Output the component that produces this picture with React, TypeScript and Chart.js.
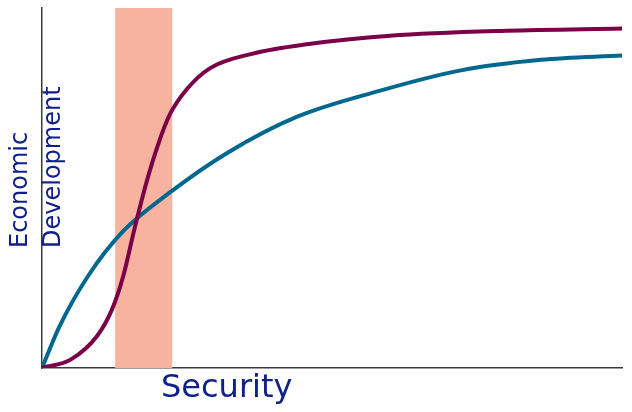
import React, { useEffect, useRef } from "react";
import { Chart, registerables } from "chart.js";

Chart.register(...registerables);

// Curve data (x: security 0..100, y: economic development 0..100)
const tealX = [0, 3, 8, 14, 22, 32, 44, 58, 72, 86, 100];
const tealY = [0, 11.5, 25.7, 38.0, 48.7, 59.8, 69.8, 76.9, 82.6, 85.6, 86.8];

const maroonX = [0, 5, 9.5, 12, 14, 16, 18, 20, 22, 25, 29, 36, 46, 60, 80, 100];
const maroonY = [0, 2.4, 8.9, 16.0, 25.5, 39.0, 51.5, 62.0, 70.3, 77.5, 83.3, 87.2, 90.0, 92.3, 93.7, 94.3];

// Shaded band (x range) spanning the full height
const bandRange = [12.6, 22.5];
const yMax = 100;

const xTitle = "Security";
const yTitleLines = ["Economic", "Development"];

const TEXT_COLOR = "#10208a";
const FONT = "'DejaVu Sans', Verdana, sans-serif";

const toPoints = (xs: number[], ys: number[]) => xs.map((x, i) => ({ x, y: ys[i] }));

const labelPlugin = {
  id: "axisLabels",
  afterDraw(chart: any) {
    const ctx = chart.ctx as CanvasRenderingContext2D;
    ctx.save();
    ctx.fillStyle = TEXT_COLOR;
    ctx.textAlign = "left";
    ctx.textBaseline = "alphabetic";
    ctx.font = `24px ${FONT}`;
    const baselines = [27, 59.5];
    yTitleLines.forEach((t, i) => {
      ctx.save();
      ctx.translate(baselines[i], 248);
      ctx.rotate(-Math.PI / 2);
      ctx.fillText(t, 0, 0);
      ctx.restore();
    });
    ctx.font = `32px ${FONT}`;
    ctx.fillText(xTitle, 161, 397);
    ctx.restore();
  },
};

export default function App() {
  const ref = useRef<HTMLCanvasElement | null>(null);
  useEffect(() => {
    if (!ref.current) return;
    const chart = new Chart(ref.current, {
      type: "line",
      data: {
        datasets: [
          {
            label: "maroon",
            data: toPoints(maroonX, maroonY),
            borderColor: "#7a0048",
            borderWidth: 4,
            pointRadius: 0,
            cubicInterpolationMode: "monotone",
            fill: false,
            order: 1,
          },
          {
            label: "teal",
            data: toPoints(tealX, tealY),
            borderColor: "#00688e",
            borderWidth: 4,
            pointRadius: 0,
            cubicInterpolationMode: "monotone",
            fill: false,
            order: 2,
          },
          {
            label: "band",
            data: [
              { x: bandRange[0], y: 0 },
              { x: bandRange[0], y: yMax },
              { x: bandRange[1], y: yMax },
              { x: bandRange[1], y: 0 },
            ],
            borderWidth: 0,
            borderColor: "rgba(0,0,0,0)",
            backgroundColor: "#f8b3a0",
            pointRadius: 0,
            tension: 0,
            fill: "origin",
            order: 3,
          },
        ],
      },
      options: {
        responsive: false,
        animation: false,
        devicePixelRatio: 1,
        layout: { padding: { left: 42, top: 8, right: 10, bottom: 44 } },
        plugins: { legend: { display: false }, tooltip: { enabled: false } },
        scales: {
          x: {
            type: "linear",
            min: 0,
            max: 100,
            ticks: { display: false },
            grid: { display: false, drawTicks: false },
            border: { display: true, color: "#3a3a3a", width: 1.5 },
          },
          y: {
            type: "linear",
            min: 0,
            max: yMax,
            ticks: { display: false },
            grid: { display: false, drawTicks: false },
            border: { display: true, color: "#3a3a3a", width: 1.5 },
          },
        },
      },
      plugins: [labelPlugin],
    });
    return () => chart.destroy();
  }, []);
  return (
    <div style={{ position: "fixed", left: 0, top: 0, width: 632, height: 412, background: "#fff" }}>
      <canvas ref={ref} width={632} height={412} style={{ display: "block" }} />
    </div>
  );
}
